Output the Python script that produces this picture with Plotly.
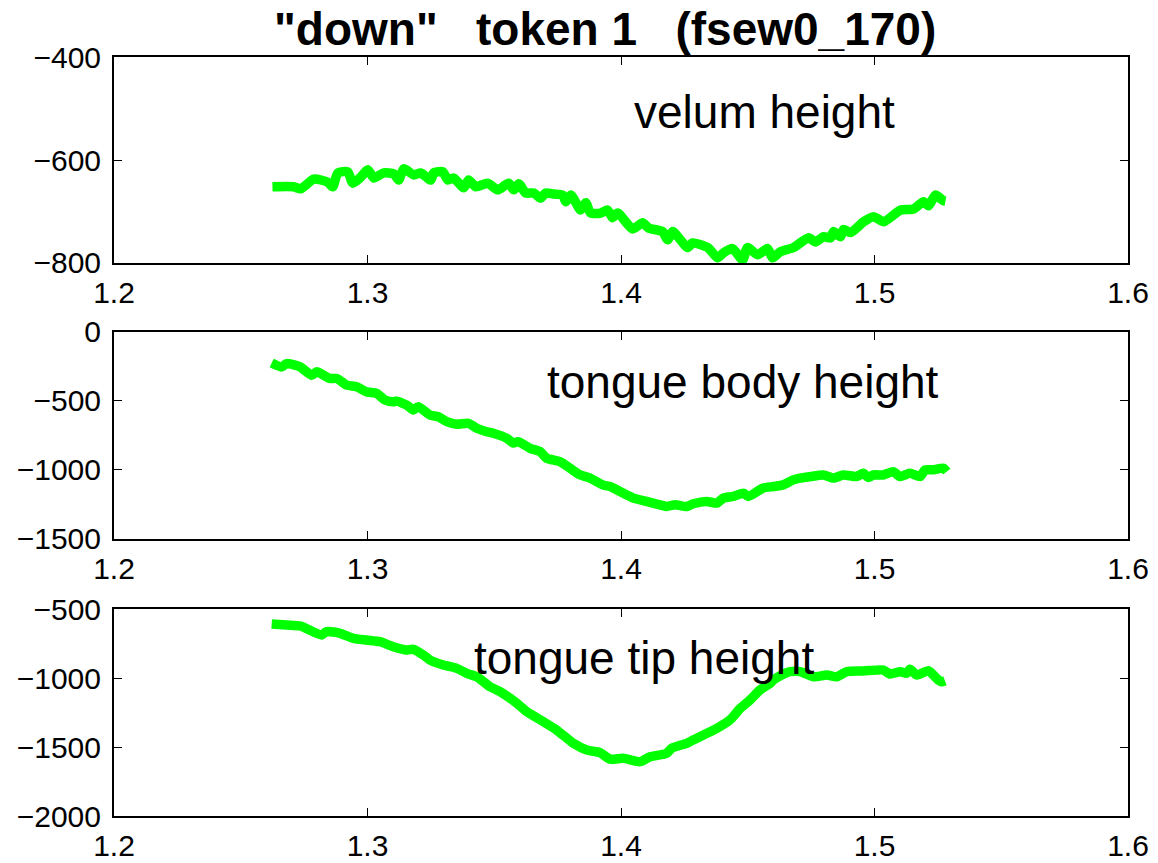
import plotly.graph_objects as go

# ---------------- data ----------------
velum_t = [1.2625, 1.2709, 1.2737, 1.2788, 1.2843, 1.2863, 1.2883, 1.2922, 1.2942, 1.2974,
           1.3001, 1.3025, 1.3064, 1.3104, 1.3123, 1.3143, 1.3183, 1.3210, 1.3250, 1.3261,
           1.3297, 1.3317, 1.3340, 1.3380, 1.3399, 1.3427, 1.3474, 1.3514, 1.3557, 1.3577,
           1.3597, 1.3624, 1.3656, 1.3683, 1.3703, 1.3734, 1.3770, 1.3782, 1.3802, 1.3841,
           1.3861, 1.3880, 1.3920, 1.3947, 1.3967, 1.3987, 1.4046, 1.4085, 1.4109, 1.4164,
           1.4184, 1.4204, 1.4263, 1.4282, 1.4342, 1.4381, 1.4405, 1.4440, 1.4480, 1.4499,
           1.4539, 1.4578, 1.4598, 1.4629, 1.4681, 1.4740, 1.4767, 1.4799, 1.4827, 1.4838,
           1.4866, 1.4878, 1.4905, 1.4957, 1.4996, 1.5036, 1.5103, 1.5154, 1.5193, 1.5213,
           1.5241, 1.5272, 1.5280]
velum_h = [-652, -652, -656, -637, -643, -652, -625, -623, -645, -633,
           -619, -635, -625, -627, -639, -617, -629, -625, -639, -625,
           -623, -639, -635, -654, -639, -652, -645, -658, -645, -658,
           -646, -664, -664, -674, -664, -666, -668, -681, -668, -697,
           -683, -703, -703, -697, -712, -703, -734, -722, -732, -739,
           -755, -739, -770, -761, -770, -790, -780, -772, -794, -770,
           -784, -772, -790, -778, -770, -751, -759, -749, -751, -739,
           -749, -735, -741, -720, -710, -720, -697, -695, -681, -689,
           -668, -679, -680]

body_t = [1.2622, 1.2662, 1.2681, 1.2734, 1.2780, 1.2800, 1.2852, 1.2879, 1.2918, 1.2957,
          1.2997, 1.3036, 1.3069, 1.3102, 1.3115, 1.3155, 1.3181, 1.3200, 1.3247, 1.3279,
          1.3313, 1.3352, 1.3398, 1.3431, 1.3470, 1.3496, 1.3549, 1.3575, 1.3595, 1.3641,
          1.3681, 1.3707, 1.3759, 1.3799, 1.3838, 1.3878, 1.3930, 1.3957, 1.3996, 1.4049,
          1.4101, 1.4180, 1.4213, 1.4259, 1.4285, 1.4338, 1.4378, 1.4404, 1.4443, 1.4483,
          1.4502, 1.4561, 1.4601, 1.4640, 1.4680, 1.4706, 1.4746, 1.4798, 1.4838, 1.4877,
          1.4930, 1.4956, 1.4976, 1.4995, 1.5035, 1.5074, 1.5101, 1.5140, 1.5180, 1.5199,
          1.5232, 1.5272, 1.5285]
body_h = [-224, -253, -229, -253, -313, -289, -337, -337, -385, -397,
          -434, -445, -493, -506, -501, -530, -565, -542, -602, -614,
          -650, -669, -662, -698, -723, -734, -770, -805, -795, -843,
          -867, -915, -939, -987, -1035, -1059, -1110, -1120, -1156, -1204,
          -1228, -1264, -1252, -1265, -1245, -1228, -1240, -1204, -1192, -1168,
          -1192, -1131, -1120, -1108, -1072, -1059, -1048, -1036, -1059, -1036,
          -1048, -1023, -1055, -1036, -1036, -1012, -1048, -1023, -1048, -1000,
          -999, -987, -1012]

tip_t = [1.2622, 1.2681, 1.2734, 1.2819, 1.2839, 1.2892, 1.2944, 1.2997, 1.3049, 1.3102,
         1.3155, 1.3181, 1.3220, 1.3247, 1.3299, 1.3352, 1.3391, 1.3431, 1.3483, 1.3523,
         1.3589, 1.3628, 1.3694, 1.3746, 1.3812, 1.3865, 1.3917, 1.3957, 1.4009, 1.4075,
         1.4115, 1.4180, 1.4200, 1.4259, 1.4285, 1.4325, 1.4378, 1.4430, 1.4470, 1.4509,
         1.4548, 1.4588, 1.4601, 1.4634, 1.4667, 1.4706, 1.4759, 1.4812, 1.4851, 1.4891,
         1.4956, 1.5035, 1.5061, 1.5101, 1.5127, 1.5140, 1.5167, 1.5212, 1.5232, 1.5252,
         1.5265, 1.5278]
tip_h = [-609, -616, -623, -688, -664, -676, -712, -725, -737, -773,
         -797, -792, -833, -870, -906, -930, -966, -991, -1063, -1099,
         -1183, -1244, -1317, -1377, -1473, -1522, -1540, -1588, -1582, -1606,
         -1570, -1546, -1509, -1473, -1449, -1413, -1365, -1304, -1220, -1159,
         -1087, -1039, -1015, -978, -954, -954, -991, -978, -991, -954,
         -949, -942, -971, -954, -966, -937, -978, -947, -978, -1015,
         -1027, -1020]

x_ticks = [1.2, 1.3, 1.4, 1.5, 1.6]
velum_ticks = [-800, -600, -400]
body_ticks = [-1500, -1000, -500, 0]
tip_ticks = [-2000, -1500, -1000, -500]

title_text = '"down"   token 1   (fsew0_170)'
labels = ["velum height", "tongue body height", "tongue tip height"]

# ---------------- figure ----------------
FONT = "Liberation Sans, Arial, Helvetica, sans-serif"
GREEN = "#00ff00"

fig = go.Figure()
series = [(velum_t, velum_h), (body_t, body_h), (tip_t, tip_h)]
for i, (t, h) in enumerate(series):
    sfx = "" if i == 0 else str(i + 1)
    fig.add_trace(go.Scatter(x=t, y=h, mode="lines", xaxis="x" + sfx, yaxis="y" + sfx,
                             line=dict(color=GREEN, width=9.5, shape="spline", smoothing=0.6),
                             showlegend=False, hoverinfo="skip"))

domains = [[0.7286, 1.0], [0.365, 0.6377], [0.0, 0.2727]]
yranges = [[-800, -400], [-1500, 0], [-2000, -500]]
yticks = [velum_ticks, body_ticks, tip_ticks]

axis_common = dict(showline=True, linecolor="black", linewidth=2, mirror="ticks",
                   ticks="inside", ticklen=8, tickwidth=1, tickcolor="black",
                   showgrid=False, zeroline=False, automargin=False,
                   tickfont=dict(family=FONT, size=30, color="black"))

layout = dict(width=1158, height=863, paper_bgcolor="white", plot_bgcolor="white",
              margin=dict(l=114, r=30, t=57, b=47), showlegend=False)

for i in range(3):
    sfx = "" if i == 0 else str(i + 1)
    layout["xaxis" + sfx] = dict(axis_common, domain=[0, 1], range=[1.2, 1.6],
                                 tickvals=x_ticks, ticktext=[f"{v:.1f}" for v in x_ticks],
                                 anchor="y" + sfx, ticklabelstandoff=2)
    layout["yaxis" + sfx] = dict(axis_common, domain=domains[i], range=yranges[i],
                                 tickvals=yticks[i], anchor="x" + sfx,
                                 ticklabelstandoff=5)

fig.update_layout(**layout)

ann_pos = [(1.4043, -507), (1.370, -363), (1.3412, -855)]
for i, (ax, ay) in enumerate(ann_pos):
    sfx = "" if i == 0 else str(i + 1)
    fig.add_annotation(x=ax, y=ay, xref="x" + sfx, yref="y" + sfx, text=labels[i],
                       showarrow=False, xanchor="left", yanchor="middle",
                       font=dict(family=FONT, size=46, color="black"))

fig.add_annotation(x=0.4842, y=1.0375, xref="paper", yref="paper",
                   text="<b>" + title_text.replace(" ", "&nbsp;") + "</b>",
                   showarrow=False, xanchor="center", yanchor="middle",
                   font=dict(family=FONT, size=46, color="black"))

fig.write_html("out.html")
